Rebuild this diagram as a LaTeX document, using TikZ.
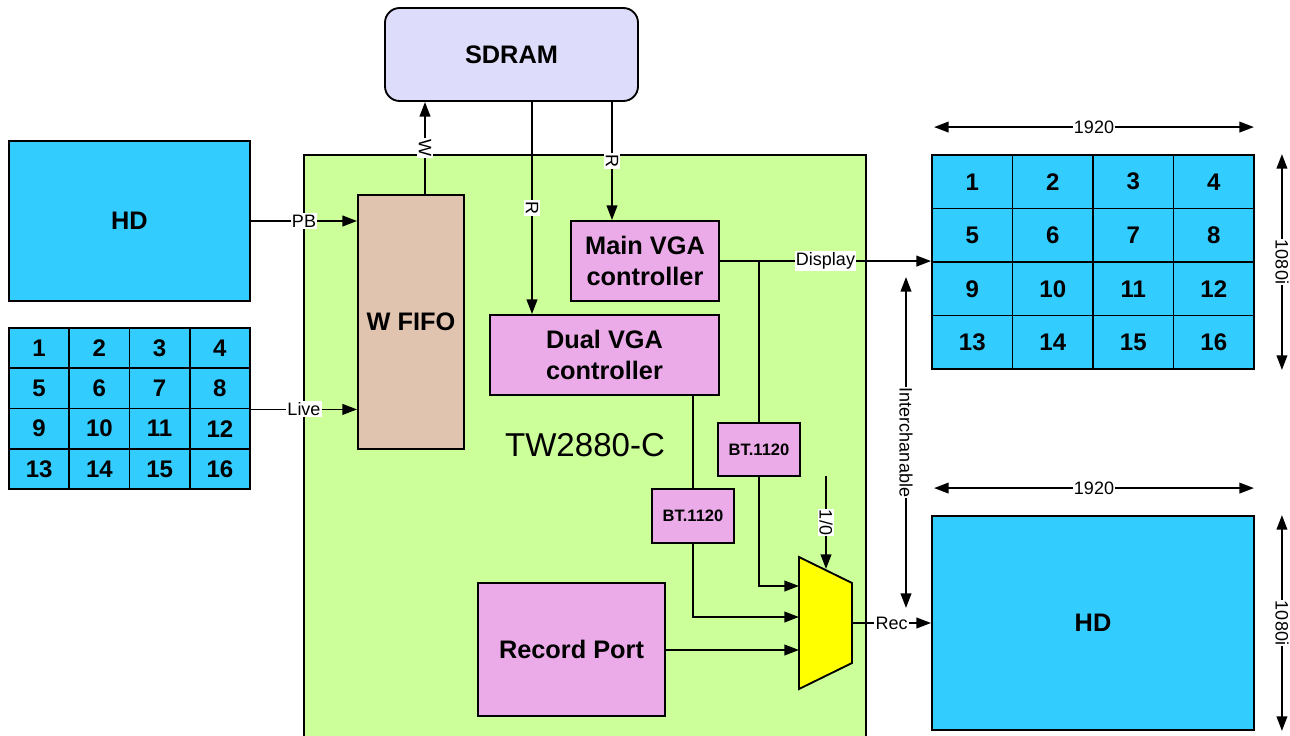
\documentclass[tikz,border=0pt]{standalone}
\usepackage{fontspec}
\setmainfont{Liberation Sans}
\usetikzlibrary{arrows.meta,positioning,calc}
\definecolor{chipgreen}{RGB}{204,255,153}
\definecolor{hdblue}{RGB}{51,204,255}
\definecolor{ctrlpink}{RGB}{235,170,232}
\definecolor{fifotan}{RGB}{224,196,176}
\definecolor{ramblue}{RGB}{221,221,251}
\definecolor{muxyellow}{RGB}{255,255,0}

\begin{document}
\begin{tikzpicture}[x=0.75pt, y=-0.75pt, >={Triangle[length=11pt,width=8pt]}, line width=1.4pt]
    % Define styles for the blocks and labels
    \tikzstyle{block} = [draw, line width=1.4pt, inner sep=0pt, align=center, font=\fontsize{19}{23}\selectfont\bfseries]
    \tikzstyle{cell} = [draw, fill=hdblue, line width=1.4pt, inner sep=0pt, font=\fontsize{18}{20}\selectfont\bfseries]
    \tikzstyle{btbox} = [block, fill=ctrlpink, minimum width=61.5pt, font=\fontsize{12.4}{14}\selectfont\bfseries]
    \tikzstyle{lbl} = [fill=white, inner sep=1pt, font=\fontsize{13.5}{15}\selectfont]

    \useasboundingbox (0,0) rectangle (1290,736);

    % Chip
    \draw[fill=chipgreen] (304,155) rectangle (866,760);
    \node[font=\fontsize{24.8}{28}\selectfont] (chip) at (585,445) {TW2880-C};

    % Nodes
    \node[block, fill=ramblue, rounded corners=11pt, minimum width=189.75pt, minimum height=69.75pt] (sdram) at (511.5,54.5) {SDRAM};
    \node[block, fill=hdblue, minimum width=180.75pt, minimum height=120pt] (hdin) at (129.5,221) {HD};
    \node[block, fill=fifotan, minimum width=79.5pt, minimum height=190.5pt] (fifo) at (411,322) {W FIFO};
    \node[block, fill=ctrlpink, minimum width=111pt, minimum height=60pt] (mainvga) at (645,261) {Main VGA\\controller};
    \node[block, fill=ctrlpink, minimum width=171.75pt, minimum height=60pt] (dualvga) at (604.5,355) {Dual VGA\\controller};
    \node[btbox, minimum height=39.75pt] (btmain) at (759,449.5) {BT.1120};
    \node[btbox, minimum height=40.5pt] (btdual) at (693,516) {BT.1120};
    \node[block, fill=ctrlpink, minimum width=140.25pt, minimum height=99.75pt] (recport) at (571.5,649.5) {Record Port};
    \node[block, fill=hdblue, minimum width=241.5pt, minimum height=160.5pt] (hdout) at (1093,623) {HD};

    % Live input grid and display grid
    \foreach \row in {0,...,3} {
        \foreach \col in {0,...,3} {
            \pgfmathtruncatemacro{\num}{4*\row+\col+1}
            \node[cell, minimum width=45.19pt, minimum height=30.19pt] (l\num) at ({39.125+60.25*\col},{348.125+40.25*\row}) {\num};
            \node[cell, minimum width=60.375pt, minimum height=40.125pt] (r\num) at ({972.25+80.5*\col},{181.75+53.5*\row}) {\num};
        }
    }

    % Mux
    \coordinate (muxa) at (799,557);
    \coordinate (muxb) at (852,583);
    \coordinate (muxc) at (852,663);
    \coordinate (muxd) at (799,689);
    \draw[fill=muxyellow] (muxa) -- (muxb) -- (muxc) -- (muxd) -- cycle;
    \coordinate (muxin1) at (799,586);
    \coordinate (muxin2) at (799,617);
    \coordinate (muxin3) at (799,650);
    \coordinate (muxout) at (852,623);
    \coordinate (selin) at (826,476);
    \coordinate (selout) at (826,569);

    % Bus positions
    \coordinate (busw) at (425,0);
    \coordinate (busr1) at (532,0);
    \coordinate (busr2) at (612,0);

    % Arrows with labels
    \draw[->] (busw |- fifo.north) -- (busw |- sdram.south) node[midway, lbl, rotate=-90] {W};
    \draw[->] (busr1 |- sdram.south) -- (busr1 |- dualvga.north) node[midway, lbl, rotate=-90] {R};
    \draw[->] (busr2 |- sdram.south) -- (busr2 |- mainvga.north) node[midway, lbl, rotate=-90] {R};
    \draw[->] (hdin.east) -- (hdin.east -| fifo.west) node[midway, lbl] {PB};
    \draw[->] (l8.south east) -- (l8.south east -| fifo.west) node[midway, lbl] {Live};
    \draw[->] (r9.north west -| mainvga.east) -- (r9.north west) node[midway, lbl] {Display};
    \draw (btmain.north |- mainvga.east) -- (btmain.north);
    \draw (btdual.north |- dualvga.south) -- (btdual.north);
    \draw[->] (btmain.south) |- (muxin1);
    \draw[->] (btdual.south) |- (muxin2);
    \draw[->] (recport.east |- muxin3) -- (muxin3);
    \draw[->] (selin) -- (selout) node[midway, lbl, rotate=-90] {1/0};
    \draw[->] (muxout) -- (hdout.west) node[midway, lbl] {Rec};

    % Interchangeable outputs
    \coordinate (swapa) at (906,277);
    \coordinate (swapb) at (906,608);
    \draw[<->] (swapa) -- (swapb) node[midway, lbl, rotate=-90] {Interchanable};

    % Resolution marks
    \draw[<->] ($(r1.north west)+(3,-27)$) -- ($(r4.north east)+(-1,-27)$) node[midway, lbl] {1920};
    \draw[<->] ($(r4.north east)+(27,0)$) -- ($(r16.south east)+(27,0)$) node[midway, lbl, rotate=-90] {1080i};
    \draw[<->] ($(hdout.north west)+(3,-27)$) -- ($(hdout.north east)+(-1,-27)$) node[midway, lbl] {1920};
    \draw[<->] ($(hdout.north east)+(27,0)$) -- ($(hdout.south east)+(27,0)$) node[midway, lbl, rotate=-90] {1080i};
\end{tikzpicture}
\end{document}
